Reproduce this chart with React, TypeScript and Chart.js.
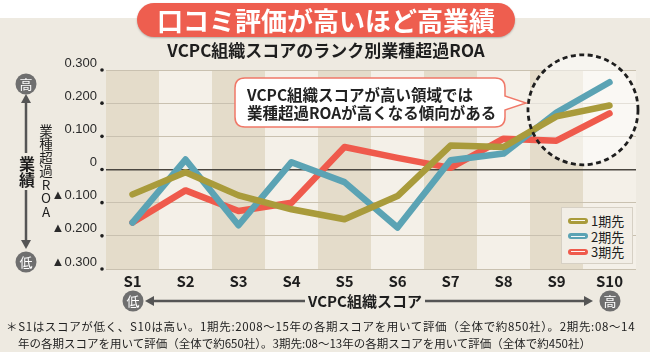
import React, { useEffect, useRef } from 'react';
import { Chart, registerables } from 'chart.js';

Chart.register(...registerables);

const FONT = '"Noto Sans CJK JP", "Noto Sans", sans-serif';
const TICK_FONT = '"Liberation Sans", "DejaVu Sans", sans-serif';

const categories = ['S1', 'S2', 'S3', 'S4', 'S5', 'S6', 'S7', 'S8', 'S9', 'S10'];
const period1 = [-0.075, -0.008, -0.078, -0.12, -0.15, -0.08, 0.072, 0.068, 0.16, 0.193];
const period2 = [-0.16, 0.03, -0.168, 0.022, -0.038, -0.175, 0.028, 0.048, 0.172, 0.263];
const period3 = [-0.16, -0.063, -0.125, -0.1, 0.068, 0.035, 0.005, 0.093, 0.087, 0.169];
const seriesNames = ['1期先', '2期先', '3期先'];
const seriesColors = ['#a99b3b', '#5ba3b4', '#ef5a4c'];
const yTickValues = [-0.3, -0.2, -0.1, 0, 0.1, 0.2, 0.3];
const yTickLabels = ['▲0.300', '▲0.200', '▲0.100', '0', '0.100', '0.200', '0.300'];

const bandsPlugin = {
  id: 'bands',
  beforeDraw(chart: any) {
    const { ctx, chartArea, scales } = chart;
    const { top, bottom, left, right } = chartArea;
    const w = (right - left) / categories.length;
    ctx.save();
    categories.forEach((_c, i) => {
      const cx = scales.x.getPixelForValue(i);
      ctx.fillStyle = i % 2 === 0 ? '#e4dcca' : '#f4f0e8';
      ctx.fillRect(cx - w / 2, top, w, bottom - top);
    });
    ctx.restore();
  },
};

const circleGeom = (chart: any) => {
  const { scales } = chart;
  const cx = (scales.x.getPixelForValue(8) + scales.x.getPixelForValue(9)) / 2;
  const cy = scales.y.getPixelForValue(0.18);
  return { cx, cy, r: 55 };
};

const highlightPlugin = {
  id: 'highlight',
  beforeDatasetsDraw(chart: any) {
    const { ctx } = chart;
    const { cx, cy, r } = circleGeom(chart);
    ctx.save();
    ctx.beginPath();
    ctx.arc(cx, cy, r, 0, Math.PI * 2);
    ctx.fillStyle = 'rgba(255,255,255,0.5)';
    ctx.fill();
    ctx.restore();
  },
  afterDatasetsDraw(chart: any) {
    const { ctx } = chart;
    const { cx, cy, r } = circleGeom(chart);
    ctx.save();
    ctx.beginPath();
    ctx.arc(cx, cy, r, 0, Math.PI * 2);
    ctx.setLineDash([5, 3.5]);
    ctx.lineWidth = 2.8;
    ctx.strokeStyle = '#1e1e1e';
    ctx.stroke();
    ctx.restore();
  },
};

const dotsPlugin = {
  id: 'tickDots',
  afterDraw(chart: any) {
    const { ctx, chartArea, scales } = chart;
    ctx.save();
    ctx.fillStyle = '#1e1e1e';
    yTickValues.forEach((v) => {
      ctx.beginPath();
      ctx.arc(chartArea.left - 4, scales.y.getPixelForValue(v), 1.8, 0, Math.PI * 2);
      ctx.fill();
    });
    ctx.restore();
  },
};

const seriesData = [period1, period2, period3];

function ChartCanvas() {
  const ref = useRef<HTMLCanvasElement>(null);
  useEffect(() => {
    if (!ref.current) return;
    const datasets: any[] = [];
    seriesData.forEach((d, i) => {
      datasets.push({
        label: seriesNames[i],
        data: d,
        borderColor: seriesColors[i],
        backgroundColor: seriesColors[i],
        borderWidth: 6.5,
        pointRadius: 0,
        borderJoinStyle: 'round',
        borderCapStyle: 'round',
        tension: 0,
      });
      datasets.push({
        label: seriesNames[i] + ' core',
        data: d,
        borderColor: 'rgba(255,255,255,0.95)',
        borderWidth: 1.7,
        pointRadius: 0,
        borderJoinStyle: 'round',
        borderCapStyle: 'round',
        tension: 0,
      });
    });
    const chart = new Chart(ref.current, {
      type: 'line',
      data: { labels: categories, datasets },
      options: {
        animation: false,
        responsive: false,
        maintainAspectRatio: false,
        layout: { padding: { top: 70, right: 14, bottom: 0, left: 0 } },
        plugins: {
          legend: { display: false },
          tooltip: { enabled: false },
          title: { display: false },
        },
        scales: {
          x: {
            type: 'category',
            offset: true,
            grid: { display: false, drawTicks: false },
            border: { display: false },
            ticks: {
              color: '#1e1e1e',
              font: { family: FONT, size: 15, weight: 'bold' },
              padding: 3,
              maxRotation: 0,
              autoSkip: false,
            },
            afterFit: (s: any) => {
              s.height = 83;
            },
          },
          y: {
            min: -0.3,
            max: 0.3,
            afterBuildTicks: (s: any) => {
              s.ticks = yTickValues.map((v) => ({ value: v }));
            },
            grid: {
              color: (c: any) => (c.tick && Math.abs(c.tick.value) < 1e-9 ? '#4a4640' : '#c9c1b0'),
              lineWidth: (c: any) => (c.tick && Math.abs(c.tick.value) < 1e-9 ? 1.4 : 1),
              drawTicks: false,
            },
            border: { display: false },
            ticks: {
              color: '#2a2a2a',
              font: { family: TICK_FONT, size: 13 },
              padding: 9,
              labelOffset: -7,
              callback: (v: any) => {
                const idx = yTickValues.findIndex((t) => Math.abs(t - Number(v)) < 1e-9);
                return idx >= 0 ? yTickLabels[idx] : '';
              },
            },
            afterFit: (s: any) => {
              s.width = 106;
            },
          },
        },
      } as any,
      plugins: [bandsPlugin, highlightPlugin, dotsPlugin],
    });
    return () => chart.destroy();
  }, []);
  return (
    <canvas
      ref={ref}
      width={650}
      height={352}
      style={{ position: 'absolute', left: 0, top: 0, width: 650, height: 352, display: 'block' }}
    />
  );
}

const circleLabel = (x: number, y: number, t: string) => (
  <g key={t + x + y}>
    <circle cx={x} cy={y} r={10.5} fill="#6f6f6f" />
    <text x={x} y={y + 4.5} fill="#fff" fontSize={13} textAnchor="middle" fontFamily={FONT}>
      {t}
    </text>
  </g>
);

export default function App() {
  return (
    <div
      style={{
        position: 'absolute',
        left: 0,
        top: 0,
        width: 650,
        height: 352,
        background: '#ffffff',
        overflow: 'hidden',
        fontFamily: FONT,
        color: '#1e1e1e',
      }}
    >
      <div style={{ position: 'absolute', left: 0, top: 18, width: 650, height: 334, background: '#eeeae1' }} />
      <ChartCanvas />
      <svg
        width={650}
        height={352}
        style={{ position: 'absolute', left: 0, top: 0, pointerEvents: 'none' }}
      >
        <path
          d="M245,78 H495 Q505,78 505,88 V96 L526,103 L505,110 V117 Q505,127 495,127 H245 Q235,127 235,117 V88 Q235,78 245,78 Z"
          fill="#ffffff"
          stroke="#f07868"
          strokeWidth={1.5}
        />
        {circleLabel(26, 84, '高')}
        <line x1={26} y1={100} x2={26} y2={153} stroke="#555" strokeWidth={2.5} />
        <polygon points="26,94 21,103 31,103" fill="#555" />
        <line x1={26} y1={190} x2={26} y2={242} stroke="#555" strokeWidth={2.5} />
        <polygon points="26,249 21,240 31,240" fill="#555" />
        {circleLabel(26, 262, '低')}
        {circleLabel(133, 301, '低')}
        <line x1={150} y1={301} x2={305} y2={301} stroke="#555" strokeWidth={2.5} />
        <polygon points="145,301 154,296 154,306" fill="#555" />
        <line x1={425} y1={301} x2={587} y2={301} stroke="#555" strokeWidth={2.5} />
        <polygon points="593,301 584,296 584,306" fill="#555" />
        {circleLabel(610, 301, '高')}
      </svg>
      <div
        style={{
          position: 'absolute',
          left: 137,
          top: 3,
          width: 378,
          height: 34,
          borderRadius: 17,
          background: '#ee5e4f',
          color: '#fff',
          fontSize: 26,
          fontWeight: 'bold',
          lineHeight: '34px',
          textAlign: 'center',
          boxShadow: '0 1px 2px rgba(0,0,0,0.25)',
        }}
      >
        口コミ評価が高いほど高業績
      </div>
      <div
        style={{
          position: 'absolute',
          left: 0,
          top: 40,
          width: 652,
          textAlign: 'center',
          fontSize: 17,
          fontWeight: 'bold',
          lineHeight: '20px',
        }}
      >
        VCPC組織スコアのランク別業種超過ROA
      </div>
      <div
        style={{
          position: 'absolute',
          left: 247,
          top: 85,
          fontSize: 15.5,
          fontWeight: 'bold',
          lineHeight: '18px',
          whiteSpace: 'nowrap',
          color: '#222',
        }}
      >
        VCPC組織スコアが高い領域では
        <br />
        業種超過ROAが高くなる傾向がある
      </div>
      <div
        style={{
          position: 'absolute',
          left: 17,
          top: 156,
          width: 18,
          fontSize: 16,
          fontWeight: 'bold',
          lineHeight: '16px',
          writingMode: 'vertical-rl',
          textOrientation: 'upright',
        }}
      >
        業績
      </div>
      <div
        style={{
          position: 'absolute',
          left: 38,
          top: 124,
          width: 15,
          fontSize: 13.5,
          lineHeight: '15px',
          writingMode: 'vertical-rl',
          textOrientation: 'upright',
        }}
      >
        業種超過ROA
      </div>
      <div
        style={{
          position: 'absolute',
          left: 305,
          top: 291,
          width: 120,
          textAlign: 'center',
          fontSize: 15,
          fontWeight: 'bold',
          lineHeight: '20px',
        }}
      >
        VCPC組織スコア
      </div>
      <div
        style={{
          position: 'absolute',
          left: 561,
          top: 207,
          width: 72,
          height: 57,
          background: '#f2eee6',
          border: '1px solid #d6d0c4',
          boxSizing: 'border-box',
          padding: '5px 0 0 6px',
        }}
      >
        {seriesNames.map((n, i) => (
          <div key={n} style={{ display: 'flex', alignItems: 'center', height: 15.5 }}>
            <div
              style={{
                width: 20,
                height: 6,
                borderRadius: 3,
                background: seriesColors[i],
                position: 'relative',
                marginRight: 3,
              }}
            >
              <div
                style={{
                  position: 'absolute',
                  left: 3,
                  right: 3,
                  top: 2.3,
                  height: 1.4,
                  background: 'rgba(255,255,255,0.92)',
                }}
              />
            </div>
            <span style={{ fontSize: 13, lineHeight: '15px' }}>{n}</span>
          </div>
        ))}
      </div>
      <div
        style={{
          position: 'absolute',
          left: 6,
          top: 318,
          width: 645,
          fontSize: 11.5,
          lineHeight: '17px',
          whiteSpace: 'nowrap',
          color: '#222',
        }}
      >
        <div style={{ letterSpacing: 0.65 }}>
          ＊S1はスコアが低く、S10は高い。1期先:2008〜15年の各期スコアを用いて評価（全体で約850社）。2期先:08〜14
        </div>
        <div style={{ paddingLeft: 12 }}>
          年の各期スコアを用いて評価（全体で約650社）。3期先:08〜13年の各期スコアを用いて評価（全体で約450社）
        </div>
      </div>
    </div>
  );
}
